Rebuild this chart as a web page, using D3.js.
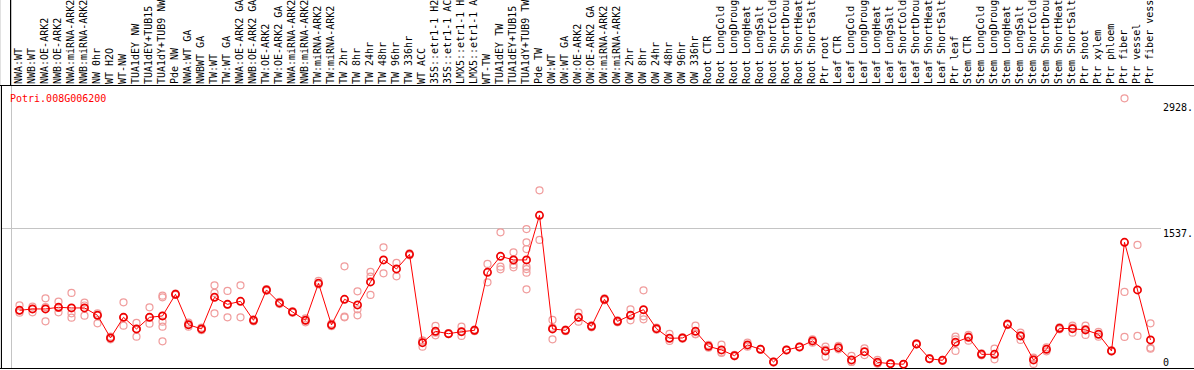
<!DOCTYPE html>
<html>
<head>
<meta charset="utf-8">
<script src="https://cdn.jsdelivr.net/npm/d3@7"></script>
<style>
  body { margin: 0; background: #fff; }
  svg { display: block; }
  text { font-family: "DejaVu Sans Mono", monospace; font-size: 10px; }
</style>
</head>
<body>
<div id="chart"></div>
<script>
// sample labels, left to right (as far as they show in the header)
const labels = [
  'NWA:WT', 'NWB:WT', 'NWA:OE-ARK2', 'NWB:OE-ARK2', 'NWA:miRNA-ARK2', 'NWB:miRNA-ARK2',
  'NW 0hr', 'WT H2O', 'WT-NW', 'TUA1dEY NW', 'TUA1dEY+TUB15', 'TUA1dY+TUB9 NW', 'Pde NW',
  'NWA:WT GA', 'NWBWT GA', 'TW:WT', 'TW:WT GA', 'NWA:OE-ARK2 GA', 'NWB:OE-ARK2 GA',
  'TW:OE-ARK2', 'TW:OE-ARK2 GA', 'NWA:miRNA-ARK2', 'NWB:miRNA-ARK2', 'TW:miRNA-ARK2',
  'TW:miRNA-ARK2', 'TW 2hr', 'TW 8hr', 'TW 24hr', 'TW 48hr', 'TW 96hr', 'TW 336hr', 'WT ACC',
  '35S::etr1-1 H2', '35S::etr1-1 AC', 'LMX5::etr1-1 H', 'LMX5::etr1-1 A', 'WT-TW',
  'TUA1dEY TW', 'TUA1dEY+TUB15', 'TUA1dY+TUB9 TW', 'Pde TW',
  'OW:WT', 'OW:WT GA', 'OW:OE-ARK2', 'OW:OE-ARK2 GA', 'OW:miRNA-ARK2', 'OW:miRNA-ARK2',
  'OW 2hr', 'OW 8hr', 'OW 24hr', 'OW 48hr', 'OW 96hr', 'OW 336hr',
  'Root CTR', 'Root LongCold', 'Root LongDroug', 'Root LongHeat', 'Root LongSalt',
  'Root ShortCold', 'Root ShortDrou', 'Root ShortHeat', 'Root ShortSalt', 'Ptr root',
  'Leaf CTR', 'Leaf LongCold', 'Leaf LongDroug', 'Leaf LongHeat', 'Leaf LongSalt',
  'Leaf ShortCold', 'Leaf ShortDrou', 'Leaf ShortHeat', 'Leaf ShortSalt', 'Ptr leaf',
  'Stem CTR', 'Stem LongCold', 'Stem LongDroug', 'Stem LongHeat', 'Stem LongSalt',
  'Stem ShortCold', 'Stem ShortDrou', 'Stem ShortHeat', 'Stem ShortSalt', 'Ptr shoot', 'Ptr xylem',
  'Ptr phloem', 'Ptr fiber', 'Ptr vessel', 'Ptr fiber vess'
];

// how many samples sit between the grey separators
const groupSizes = [13, 28, 12, 10, 10, 11, 1, 1, 1, 1];

// mean expression per sample
const means = [
  596, 611, 611, 629, 622, 622, 541, 292, 519, 391, 519, 534, 772,
  438, 391, 739, 662, 695, 486, 820, 677, 578, 486, 893, 435, 717, 655, 908,
  1150, 1051, 1212, 240, 365, 339, 361, 376, 1014, 1190, 1150, 1150, 1641,
  391, 376, 519, 420, 717, 475, 541, 603, 394, 288, 292, 365,
  200, 160, 97, 215, 167, 28, 160, 193, 259, 149,
  185, 50, 141, 24, 9, 3, 226, 64, 46, 244,
  299, 112, 112, 442, 314, 50, 167, 398, 394, 380, 332,
  149, 1344, 820, 270
];

// individual replicates per sample
const reps = [
  [651, 596, 570], [636, 611, 574], [728, 630, 475], [691, 622, 574], [787, 563, 515],
  [680, 649, 537], [563, 541, 453], [306, 292, 277], [684, 519, 427], [457, 391, 306],
  [629, 519, 449], [757, 739, 534, 471, 416, 255], [780, 765],
  [460, 438, 416], [405, 391, 377], [871, 787, 563], [809, 658, 519], [871, 519],
  [497, 475], [830, 810], [690, 665], [585, 570], [508, 486, 464], [919, 880],
  [449, 421], [1080, 526, 519], [805, 607, 541], [1018, 966, 765], [1289, 1003],
  [1117, 970], [1223, 1201], [262, 262, 196], [424, 350, 321], [345, 333],
  [416, 361, 314], [385, 367], [1106, 904], [1454, 1076, 1047], [1234, 1150, 1098, 1069],
  [1490, 1344, 1270, 1076, 1050, 1010, 827], [1916, 1370],
  [490, 405, 277], [385, 367], [570, 519, 471], [431, 409], [728, 706], [486, 464],
  [607, 541, 486], [816, 530, 497], [405, 383], [336, 259], [300, 284], [427, 336, 332],
  [215, 185], [218, 135, 127], [105, 90], [240, 196], [172, 162], [33, 23], [165, 155],
  [198, 188], [277, 240], [196, 165, 86],
  [204, 167], [94, 28, 28], [178, 104], [50, 12, 10], [14, 5], [3, 3], [233, 219],
  [70, 58], [52, 40], [306, 277, 149],
  [325, 310, 262], [123, 101], [174, 57], [450, 434], [350, 322, 270], [76, 68, 6],
  [189, 145], [409, 387], [427, 405, 350], [427, 388, 325], [358, 306],
  [155, 143], [2928, 798, 303], [1315, 314], [453, 183, 174]
];

const yTicks = [0, 1537, 2928];
const title = 'Potri.008G006200';

const width = 1194, height = 370;
const labelBottom = 85, plotBottom = 368;
const dx = 8.5, dy = -3.5; // glyph offset of the markers

const svg = d3.select('#chart').append('svg')
  .attr('width', width)
  .attr('height', height);

const x = d3.scaleBand()
  .domain(d3.range(labels.length))
  .range([11, 11 + 13 * labels.length]);

const y = d3.scaleLinear()
  .domain([0, 2928])
  .range([plotBottom, 101.8]);

// grey separators between sample groups
const bounds = [0].concat(d3.cumsum(groupSizes));
svg.append('g')
  .selectAll('line')
  .data(bounds)
  .join('line')
  .attr('x1', d => Math.round(x.range()[0] + d * x.step()) + 0.5)
  .attr('x2', d => Math.round(x.range()[0] + d * x.step()) + 0.5)
  .attr('y1', 0)
  .attr('y2', plotBottom)
  .attr('stroke', '#c4c4c4');

// horizontal grid line
svg.append('line')
  .attr('x1', 2).attr('x2', 1161)
  .attr('y1', Math.round(y(1537)) + 0.5).attr('y2', Math.round(y(1537)) + 0.5)
  .attr('stroke', '#c4c4c4');

// frame
svg.append('line')
  .attr('x1', 0).attr('x2', width)
  .attr('y1', labelBottom + 0.5).attr('y2', labelBottom + 0.5)
  .attr('stroke', '#000');
svg.append('line')
  .attr('x1', 0).attr('x2', width)
  .attr('y1', plotBottom + 0.5).attr('y2', plotBottom + 0.5)
  .attr('stroke', '#000');
svg.append('line')
  .attr('x1', 10.5).attr('x2', 10.5)
  .attr('y1', 0).attr('y2', labelBottom)
  .attr('stroke', '#000');
svg.append('line')
  .attr('x1', 1.5).attr('x2', 1.5)
  .attr('y1', labelBottom).attr('y2', plotBottom)
  .attr('stroke', '#000');

// rotated sample labels
svg.append('g')
  .selectAll('text')
  .data(labels)
  .join('text')
  .attr('transform', (d, i) => `translate(${x(i) + 10.5},${labelBottom - 1}) rotate(-90)`)
  .attr('fill', '#000')
  .text(d => d);

// right axis labels
svg.append('g')
  .selectAll('text')
  .data(yTicks)
  .join('text')
  .attr('x', 1163)
  .attr('y', d => Math.min(y(d) + 8.8, 366))
  .attr('fill', '#000')
  .text(d => d === 0 ? '0' : d + '.');

svg.append('text')
  .attr('x', 10)
  .attr('y', 101.5)
  .attr('fill', '#ff0000')
  .text(title);

// replicates
const repPts = reps.flatMap((r, i) => r.map(v => ({i, v})));
svg.append('g')
  .selectAll('circle')
  .data(repPts)
  .join('circle')
  .attr('cx', d => x(d.i) + dx)
  .attr('cy', d => y(d.v) + dy)
  .attr('r', 3.5)
  .attr('fill', 'none')
  .attr('stroke', '#f09c9c')
  .attr('stroke-width', 1.2);

// mean line
const line = d3.line()
  .x((d, i) => x(i) + dx)
  .y(d => y(d) + dy);

svg.append('path')
  .datum(means)
  .attr('d', line)
  .attr('fill', 'none')
  .attr('stroke', '#ff0000')
  .attr('stroke-width', 1);

svg.append('g')
  .selectAll('circle')
  .data(means)
  .join('circle')
  .attr('cx', (d, i) => x(i) + dx)
  .attr('cy', d => y(d) + dy)
  .attr('r', 3.6)
  .attr('fill', 'none')
  .attr('stroke', '#ee0000')
  .attr('stroke-width', 1.7);
</script>
</body>
</html>
